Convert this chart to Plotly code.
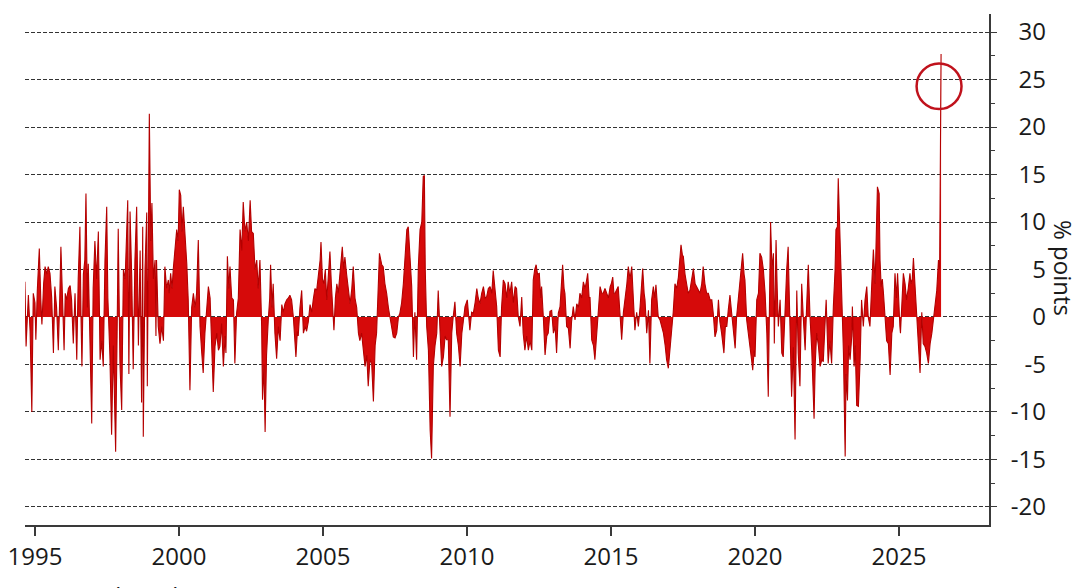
import plotly.graph_objects as go

# ---- data (decimal year, % points) ----
years = [
    1994.65, 1994.69, 1994.77, 1994.83, 1994.89, 1994.94, 1995.00, 1995.03, 1995.08, 1995.15,
    1995.20, 1995.24, 1995.30, 1995.35, 1995.41, 1995.46, 1995.52, 1995.58, 1995.64, 1995.69,
    1995.75, 1995.81, 1995.86, 1995.90, 1995.96, 1996.01, 1996.05, 1996.10, 1996.16, 1996.22,
    1996.27, 1996.33, 1996.39, 1996.45, 1996.50, 1996.56, 1996.60, 1996.63, 1996.68, 1996.73,
    1996.77, 1996.82, 1996.85, 1996.91, 1996.97, 1997.02, 1997.08, 1997.14, 1997.20, 1997.26,
    1997.32, 1997.37, 1997.43, 1997.49, 1997.53, 1997.60, 1997.66, 1997.72, 1997.78, 1997.80,
    1997.85, 1997.89, 1997.95, 1998.01, 1998.07, 1998.13, 1998.22, 1998.26, 1998.30, 1998.36,
    1998.41, 1998.47, 1998.53, 1998.59, 1998.65, 1998.70, 1998.74, 1998.76, 1998.82, 1998.88,
    1998.90, 1998.93, 1998.97, 1999.02, 1999.06, 1999.11, 1999.17, 1999.20, 1999.22, 1999.28,
    1999.34, 1999.40, 1999.46, 1999.51, 1999.57, 1999.63, 1999.66, 1999.71, 1999.76, 1999.80,
    1999.86, 1999.92, 1999.97, 2000.01, 2000.06, 2000.10, 2000.15, 2000.21, 2000.27, 2000.32,
    2000.38, 2000.44, 2000.50, 2000.56, 2000.61, 2000.67, 2000.73, 2000.79, 2000.84, 2000.90,
    2000.96, 2001.02, 2001.08, 2001.11, 2001.19, 2001.25, 2001.31, 2001.37, 2001.42, 2001.48,
    2001.54, 2001.60, 2001.63, 2001.68, 2001.73, 2001.77, 2001.83, 2001.89, 2001.94, 2002.00,
    2002.06, 2002.12, 2002.18, 2002.23, 2002.29, 2002.35, 2002.41, 2002.47, 2002.52, 2002.58,
    2002.64, 2002.70, 2002.75, 2002.81, 2002.87, 2002.90, 2002.95, 2002.99, 2003.04, 2003.10,
    2003.15, 2003.18, 2003.23, 2003.27, 2003.33, 2003.39, 2003.45, 2003.51, 2003.57, 2003.62,
    2003.68, 2003.74, 2003.80, 2003.85, 2003.91, 2003.97, 2004.02, 2004.06, 2004.11, 2004.14,
    2004.20, 2004.26, 2004.32, 2004.38, 2004.43, 2004.49, 2004.55, 2004.61, 2004.66, 2004.72,
    2004.78, 2004.84, 2004.90, 2004.93, 2004.98, 2005.03, 2005.08, 2005.13, 2005.18, 2005.24,
    2005.29, 2005.34, 2005.38, 2005.43, 2005.48, 2005.53, 2005.59, 2005.64, 2005.67, 2005.72,
    2005.76, 2005.82, 2005.88, 2005.94, 2006.00, 2006.05, 2006.11, 2006.17, 2006.23, 2006.28,
    2006.34, 2006.40, 2006.46, 2006.52, 2006.57, 2006.63, 2006.69, 2006.75, 2006.81, 2006.86,
    2006.91, 2006.96, 2007.04, 2007.09, 2007.15, 2007.21, 2007.27, 2007.33, 2007.38, 2007.44,
    2007.50, 2007.56, 2007.62, 2007.67, 2007.73, 2007.79, 2007.85, 2007.91, 2007.96, 2008.02,
    2008.08, 2008.14, 2008.19, 2008.25, 2008.31, 2008.37, 2008.43, 2008.48, 2008.52, 2008.55,
    2008.60, 2008.66, 2008.72, 2008.77, 2008.83, 2008.89, 2008.95, 2009.00, 2009.06, 2009.12,
    2009.18, 2009.24, 2009.29, 2009.35, 2009.41, 2009.47, 2009.52, 2009.58, 2009.64, 2009.70,
    2009.76, 2009.82, 2009.87, 2009.93, 2010.01, 2010.06, 2010.10, 2010.16, 2010.22, 2010.28,
    2010.34, 2010.39, 2010.45, 2010.51, 2010.57, 2010.63, 2010.68, 2010.74, 2010.80, 2010.86,
    2010.91, 2010.97, 2011.03, 2011.09, 2011.15, 2011.20, 2011.26, 2011.32, 2011.38, 2011.43,
    2011.49, 2011.55, 2011.61, 2011.67, 2011.72, 2011.78, 2011.84, 2011.90, 2011.95, 2012.01,
    2012.07, 2012.13, 2012.19, 2012.25, 2012.30, 2012.35, 2012.40, 2012.45, 2012.51, 2012.56,
    2012.59, 2012.65, 2012.71, 2012.77, 2012.82, 2012.88, 2012.94, 2013.00, 2013.06, 2013.11,
    2013.17, 2013.23, 2013.27, 2013.32, 2013.37, 2013.40, 2013.46, 2013.52, 2013.58, 2013.63,
    2013.69, 2013.75, 2013.81, 2013.87, 2013.92, 2013.98, 2014.04, 2014.10, 2014.16, 2014.19,
    2014.24, 2014.27, 2014.33, 2014.39, 2014.44, 2014.50, 2014.56, 2014.62, 2014.68, 2014.73,
    2014.79, 2014.85, 2014.91, 2014.97, 2015.01, 2015.06, 2015.10, 2015.14, 2015.20, 2015.25,
    2015.31, 2015.37, 2015.43, 2015.49, 2015.55, 2015.60, 2015.66, 2015.72, 2015.78, 2015.83,
    2015.89, 2015.95, 2016.01, 2016.05, 2016.10, 2016.15, 2016.18, 2016.24, 2016.30, 2016.35,
    2016.41, 2016.47, 2016.52, 2016.56, 2016.61, 2016.64, 2016.70, 2016.76, 2016.82, 2016.88,
    2016.93, 2016.99, 2017.05, 2017.11, 2017.16, 2017.22, 2017.28, 2017.34, 2017.40, 2017.43,
    2017.48, 2017.51, 2017.57, 2017.63, 2017.68, 2017.74, 2017.80, 2017.86, 2017.92, 2017.97,
    2018.03, 2018.09, 2018.15, 2018.20, 2018.26, 2018.32, 2018.38, 2018.44, 2018.50, 2018.55,
    2018.61, 2018.67, 2018.73, 2018.78, 2018.84, 2018.90, 2018.92, 2018.97, 2019.02, 2019.07,
    2019.13, 2019.19, 2019.25, 2019.31, 2019.36, 2019.42, 2019.48, 2019.57, 2019.62, 2019.65,
    2019.71, 2019.77, 2019.83, 2019.88, 2019.92, 2019.97, 2020.00, 2020.06, 2020.12, 2020.17,
    2020.23, 2020.29, 2020.35, 2020.41, 2020.46, 2020.50, 2020.54, 2020.59, 2020.64, 2020.67,
    2020.73, 2020.77, 2020.81, 2020.87, 2020.93, 2020.98, 2021.04, 2021.10, 2021.15, 2021.21,
    2021.27, 2021.33, 2021.39, 2021.45, 2021.50, 2021.56, 2021.62, 2021.68, 2021.74, 2021.79,
    2021.85, 2021.91, 2021.97, 2022.05, 2022.09, 2022.14, 2022.20, 2022.26, 2022.32, 2022.37,
    2022.43, 2022.47, 2022.51, 2022.54, 2022.60, 2022.66, 2022.72, 2022.78, 2022.81, 2022.86,
    2022.89, 2022.93, 2022.98, 2023.01, 2023.07, 2023.13, 2023.16, 2023.21, 2023.25, 2023.30,
    2023.36, 2023.38, 2023.44, 2023.48, 2023.53, 2023.59, 2023.65, 2023.70, 2023.76, 2023.82,
    2023.88, 2023.93, 2023.99, 2024.05, 2024.11, 2024.17, 2024.21, 2024.25, 2024.31, 2024.34,
    2024.38, 2024.42, 2024.46, 2024.51, 2024.57, 2024.63, 2024.69, 2024.75, 2024.80, 2024.86,
    2024.91, 2024.95, 2025.00, 2025.03, 2025.05, 2025.10, 2025.15, 2025.21, 2025.26, 2025.32,
    2025.38, 2025.41, 2025.46, 2025.50, 2025.56, 2025.61, 2025.67, 2025.73, 2025.79, 2025.84,
    2025.90, 2025.96, 2026.02, 2026.08, 2026.14, 2026.19, 2026.25, 2026.31, 2026.37, 2026.41,
    2026.46,
]

spread = [
    3.7, -3.1, 2.3, -1.5, -10.0, 2.5, 1.5, -2.4, 2.8, 7.2,
    2.0, -0.8, 3.5, 5.3, 4.5, 5.3, 4.6, 2.0, -3.8, 3.2,
    1.0, -3.5, 2.0, 7.4, 1.5, -3.5, 2.5, 1.8, 3.0, 3.3,
    1.8, -2.8, 2.5, -4.5, 4.0, 9.5, -0.5, -5.2, 4.5, 6.0,
    13.0, 1.0, 5.6, -2.0, -11.2, 3.0, 8.0, 4.0, 9.0, -4.5,
    -2.5, -5.2, 6.0, 11.6, 2.0, -4.0, -12.4, -3.0, -12.0, -14.2,
    -2.0, 9.3, -5.0, -9.8, 5.0, 4.0, 12.3, -6.0, 11.1, 4.0,
    -5.5, 6.0, 11.6, -3.0, 7.0, -9.0, 9.5, -12.6, 5.0, 11.0,
    -7.3, 10.0, 21.4, 8.0, 12.0, 4.0, 6.0, -2.0, 6.0, -1.0,
    -2.8, -1.0, -2.5, 5.3, 3.0, 3.9, 2.5, 4.6, 3.0, 5.0,
    7.0, 9.2, 8.0, 13.4, 12.8, 9.0, 11.6, 8.8, 5.6, 1.8,
    -7.7, 1.0, 2.5, 1.0, 2.5, 8.1, -1.0, -3.8, -5.9, -1.7,
    0.5, 3.2, 2.0, -1.0, -7.9, -3.1, -1.7, -3.5, -3.1, -0.7,
    -5.2, -2.0, -3.8, 6.4, 3.0, 5.3, 2.0, 1.8, -4.9, 0.4,
    2.0, 9.2, 7.0, 12.1, 9.0, 10.0, 8.0, 12.3, 9.0, 8.8,
    5.0, 6.0, 3.0, 6.0, -1.0, -8.7, -5.0, -12.1, -4.0, -0.3,
    2.0, 5.5, 1.0, 3.5, -1.7, -4.4, -1.0, -2.5, 1.3, 0.5,
    1.4, 1.8, 2.0, 2.3, 1.8, 0.0, -2.5, -4.2, -1.5, -2.0,
    1.0, 2.8, -1.7, -1.0, -1.5, -0.5, 1.3, 0.5, 1.8, 3.0,
    2.8, 4.5, 6.0, 7.9, 4.0, 3.5, 5.0, 1.8, 4.0, 6.9,
    3.5, 1.0, -1.4, 2.0, 3.5, 2.5, 4.6, 6.0, 7.4, 5.0,
    6.3, 4.5, 3.2, 1.4, 3.0, 5.3, 2.0, 1.0, -1.7, -2.5,
    -1.7, -3.5, -5.2, -4.0, -7.3, -4.5, -4.9, -8.9, -3.0, -1.7,
    2.0, 6.7, 5.5, 5.3, 3.5, 2.5, 1.0, -0.3, -1.0, -2.1,
    -2.2, -1.7, 0.0, 0.4, 1.5, 3.5, 6.0, 9.2, 9.5, 6.5,
    3.2, -4.2, 0.5, -4.5, 5.3, 9.2, 10.0, 14.8, 14.9, 5.0,
    -1.0, -3.5, -11.9, -14.9, -5.2, -3.0, -1.7, 2.8, -1.0, -5.2,
    -4.2, -2.0, -2.4, -2.4, -10.5, -1.7, 0.0, 1.6, -1.7, -3.0,
    -5.2, -1.7, -0.5, 1.1, 1.8, -0.5, -1.4, 0.5, 0.4, 1.5,
    3.0, 2.0, 1.4, 2.5, 3.2, 2.0, 2.1, 3.0, 3.2, 2.5,
    4.9, 3.0, 1.1, -3.5, -4.2, 1.0, 3.9, 3.5, 2.0, 3.7,
    2.5, 3.7, 1.5, 3.2, 3.0, 0.0, -1.0, 2.1, -1.7, -3.5,
    -2.0, -3.5, -2.5, -3.5, 3.9, 5.0, 5.5, 4.5, 4.6, 2.0,
    3.2, 0.0, -4.0, -2.0, -1.7, 0.6, 0.7, -1.7, -1.0, -3.8,
    0.4, 1.1, 3.0, 5.5, 3.0, 2.5, -1.0, -1.2, -3.3, -0.5,
    1.1, -0.3, 1.4, 1.0, 2.5, 2.0, 3.7, 3.0, 4.0, 4.6,
    2.0, 2.1, -2.4, -3.0, -4.5, -1.7, 0.5, 3.2, 2.5, 2.5,
    3.0, 2.5, 2.0, 3.2, 3.5, 4.2, 2.5, 2.5, 3.0, 3.2,
    0.4, -2.4, 0.5, 1.8, 3.5, 5.3, 4.0, 5.3, 1.1, -1.4,
    0.5, -1.0, 1.1, 3.0, 5.1, 2.5, 1.8, -1.7, 0.7, -4.9,
    1.8, 3.2, 2.0, 3.4, 1.0, 0.0, -0.3, -1.0, -1.7, -3.0,
    -4.5, -5.4, -3.5, -1.0, 0.5, 3.5, 3.0, 4.2, 6.0, 7.6,
    6.5, 6.4, 4.5, 3.2, 2.5, 2.8, 4.0, 5.1, 3.5, 3.2,
    2.8, 2.5, 3.5, 5.3, 3.5, 2.5, 2.5, 1.8, 1.8, 0.4,
    -2.1, -1.4, 1.8, -0.5, -1.7, -3.0, -3.8, -1.0, -1.0, 0.7,
    2.3, 0.4, -1.5, -3.3, 0.0, 2.0, 4.2, 6.7, 4.5, 3.9,
    -0.3, -2.0, -3.8, -4.5, -5.6, -3.5, -4.2, 1.8, 2.5, 6.7,
    6.3, 5.0, 2.5, -1.7, -8.4, 3.0, 10.0, 5.0, 6.7, -2.8,
    8.1, 3.0, -1.0, 1.8, -3.8, -4.2, 1.1, 5.0, 7.4, -0.3,
    -8.4, -3.2, -12.9, 2.8, -3.8, -7.3, 3.5, -0.3, -3.5, 1.0,
    5.5, 0.0, -3.5, -10.7, -5.0, -1.7, -3.0, -5.2, -4.5, -4.7,
    -1.0, 1.8, -2.0, -4.9, -2.5, -4.9, 1.1, 5.0, 9.2, 9.5,
    14.6, 10.0, 5.0, 0.5, -3.8, -14.7, -6.0, -8.8, -3.0, -4.5,
    -2.0, 1.1, -5.2, -3.0, -9.3, -9.4, -4.5, 1.8, -1.0, 1.8,
    3.2, 0.0, -1.0, 3.2, 7.1, 3.5, 8.0, 13.7, 13.0, 6.0,
    3.2, 4.0, 2.5, 0.0, -2.5, -2.8, -6.1, -1.7, -1.0, 4.6,
    2.0, 4.6, 0.0, -1.0, -1.7, 2.0, 4.6, 3.5, 1.8, 3.0,
    4.6, 3.5, 4.0, 6.2, 3.2, 0.0, -3.1, -5.9, 0.5, -2.8,
    -3.1, -3.8, -4.9, -2.8, -1.7, -0.3, 1.8, 2.8, 6.0, 5.0,
    27.7,
]

x_tick_vals = [1995, 2000, 2005, 2010, 2015, 2020, 2025]
x_tick_text = ["1995", "2000", "2005", "2010", "2015", "2020", "2025"]
y_tick_vals = [-20, -15, -10, -5, 0, 5, 10, 15, 20, 25, 30]
y_tick_text = ["-20", "-15", "-10", "-5", "0", "5", "10", "15", "20", "25", "30"]

highlight_year = 2026.39
highlight_value = 24.3

FONT = "Open Sans"
TXT = "#1a1a1a"
AX = "#3a3a3a"

fig = go.Figure()
fig.add_trace(go.Scatter(
    x=years, y=spread, mode="lines",
    line=dict(color="#b40000", width=1.1),
    fill="tozeroy", fillcolor="#d60a0a",
    showlegend=False, hoverinfo="x+y",
))
# helper trace so the label axis is drawn
fig.add_trace(go.Scatter(x=[None], y=[None], yaxis="y2", showlegend=False, hoverinfo="skip"))

y_range = [-21.9, 31.9]
dom = 0.9442

# page body has an 8px default margin; size the figure to fill the rest of the window
fig.update_layout(
    width=1072, height=580,
    margin=dict(l=17, r=34, t=6, b=63, autoexpand=False),
    paper_bgcolor="white", plot_bgcolor="white",
    font=dict(family=FONT, size=24, color=TXT),
    xaxis=dict(
        domain=[0, dom], range=[1994.653, 2028.125], automargin=False,
        showline=True, linecolor=AX, linewidth=2,
        ticks="outside", ticklen=9, tickwidth=1.5, tickcolor=AX,
        tickmode="array", tickvals=x_tick_vals, ticktext=x_tick_text,
        ticklabeloverflow="allow",
        showgrid=False, zeroline=False,
        tickfont=dict(family=FONT, size=24, color=TXT),
    ),
    yaxis=dict(
        side="right", anchor="x", range=y_range, automargin=False,
        showline=True, linecolor=AX, linewidth=1.5,
        ticks="outside", ticklen=6, tickwidth=1.3, tickcolor=AX,
        tickmode="linear", tick0=0, dtick=5,
        showticklabels=False,
        showgrid=True, gridcolor="#333333", gridwidth=1, griddash="4px,2px",
        zeroline=False,
        minor=dict(ticks="outside", ticklen=4, tickwidth=1.3, tickcolor=AX,
                   tickmode="linear", tick0=2.5, dtick=5, showgrid=False),
    ),
    yaxis2=dict(
        overlaying="y", side="left", anchor="free", position=1.0, automargin=False,
        range=y_range, showline=False, ticks="", showgrid=False, zeroline=False,
        tickmode="array", tickvals=y_tick_vals, ticktext=y_tick_text,
        tickfont=dict(family=FONT, size=24, color=TXT),
    ),
    shapes=[dict(
        type="circle", xref="x", yref="y",
        x0=highlight_year - 0.78, x1=highlight_year + 0.78,
        y0=highlight_value - 2.4, y1=highlight_value + 2.4,
        line=dict(color="#c0121c", width=2.5),
    )],
    annotations=[
        dict(text="% points", xref="paper", yref="paper", x=1.0166, y=0.503,
             xanchor="center", yanchor="middle", textangle=90, showarrow=False,
             font=dict(family=FONT, size=24, color=TXT)),
        dict(text="Source: Bloomberg", xref="paper", yref="paper", x=-0.0167, y=-0.102,
             xanchor="left", yanchor="top", showarrow=False,
             font=dict(family=FONT, size=24, color=TXT)),
    ],
)

fig.write_html("out.html")
